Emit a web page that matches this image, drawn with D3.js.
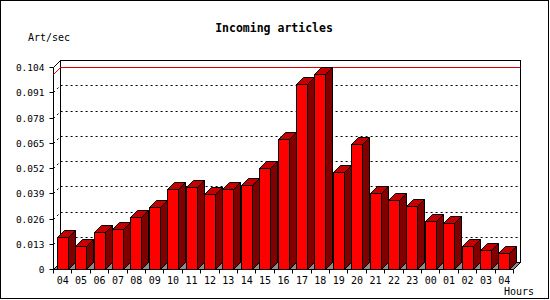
<!DOCTYPE html>
<html>
<head>
<meta charset="utf-8">
<script src="https://cdn.jsdelivr.net/npm/d3@7"></script>
<style>
  body { margin: 0; background: #fff; }
  svg { display: block; }
  text { font-family: "DejaVu Sans Mono", monospace; fill: #000; }
</style>
</head>
<body>
<div id="chart"></div>
<script>
// values
const hours = ["04","05","06","07","08","09","10","11","12","13","14","15","16",
               "17","18","19","20","21","22","23","00","01","02","03","04"];
const artPerSec = [0.0163, 0.0116, 0.0188, 0.0204, 0.0270, 0.0317, 0.0414, 0.0424,
                   0.0388, 0.0414, 0.0435, 0.0518, 0.0671, 0.0950, 0.1006, 0.0501,
                   0.0645, 0.0390, 0.0353, 0.0322, 0.0246, 0.0236, 0.0116, 0.0096, 0.0081];
const yTicks = [0, 0.013, 0.026, 0.039, 0.052, 0.065, 0.078, 0.091, 0.104];
const yTickLabels = ["0", "0.013", "0.026", "0.039", "0.052", "0.065", "0.078", "0.091", "0.104"];

const width = 550, height = 300;
const depth = 7;          // 3d offset of the back wall
const plotL = 53.5, plotR = 513.5, plotB = 269.5, plotT = 67.5;

const svg = d3.select("#chart").append("svg")
    .attr("width", width)
    .attr("height", height);

svg.append("rect")
    .attr("x", 0.5).attr("y", 0.5)
    .attr("width", 548).attr("height", 298)
    .attr("fill", "#fff").attr("stroke", "#000");

const x = d3.scaleBand()
    .domain(d3.range(hours.length))
    .range([plotL, plotR]);

const y = d3.scaleLinear()
    .domain([0, yTicks[yTicks.length - 1]])
    .range([plotB, plotT]);

const py = v => Math.round(y(v) - 0.5) + 0.5;

// back wall
svg.append("rect")
    .attr("x", plotL + depth).attr("y", plotT - depth)
    .attr("width", plotR - plotL).attr("height", plotB - plotT)
    .attr("fill", "#fff").attr("stroke", "#000")
    .attr("shape-rendering", "crispEdges");

// left wall edges
svg.append("path")
    .attr("d", `M${plotL},${plotB}V${plotT}L${plotL + depth},${plotT - depth}`)
    .attr("fill", "none").attr("stroke", "#000");

// dotted grid lines
svg.append("g")
  .selectAll("path")
  .data(yTicks.slice(1, -1))
  .join("path")
    .attr("d", d => `M${plotL},${py(d)}L${plotL + depth},${py(d) - depth}H${plotR + depth}`)
    .attr("fill", "none")
    .attr("stroke", "#000")
    .attr("stroke-dasharray", "2,3");

// maximum line
const maxV = d3.max(artPerSec);
svg.append("path")
    .attr("d", `M${plotL},${py(maxV)}L${plotL + depth},${py(maxV) - depth}H${plotR + depth}`)
    .attr("fill", "none")
    .attr("stroke", "#e00000");

// floor
svg.append("path")
    .attr("d", `M${plotL},${plotB}L${plotL + depth},${plotB - depth}H${plotR + depth}L${plotR},${plotB}Z`)
    .attr("fill", "#8c8c8c").attr("stroke", "#000");

// bars
const bar = svg.append("g")
    .attr("stroke", "#000")
  .selectAll("g")
  .data(artPerSec)
  .join("g");

const bx0 = (d, i) => Math.round(x(i) + x.bandwidth() * 0.18) + 0.5;
const bw = Math.round(x.bandwidth() * 0.6);

bar.append("path")
    .attr("fill", "#ff0000")
    .attr("d", (d, i) => `M${bx0(d, i)},${plotB}V${py(d)}h${bw}V${plotB}Z`);

bar.append("path")
    .attr("fill", "#c40000")
    .attr("d", (d, i) => `M${bx0(d, i)},${py(d)}l${depth},${-depth}h${bw}l${-depth},${depth}Z`);

bar.append("path")
    .attr("fill", "#800000")
    .attr("d", (d, i) => `M${bx0(d, i) + bw},${py(d)}l${depth},${-depth}V${plotB - depth}l${-depth},${depth}Z`);

// y axis ticks + labels
const yAxis = d3.axisLeft(y)
    .tickValues(yTicks)
    .tickFormat((d, i) => yTickLabels[i])
    .tickSize(4)
    .tickSizeOuter(0)
    .tickPadding(5);

svg.append("g")
    .attr("transform", `translate(${plotL},0)`)
    .call(yAxis)
    .call(g => g.select(".domain").remove())
    .call(g => g.selectAll(".tick").attr("transform", d => `translate(0,${py(d)})`))
    .call(g => g.selectAll("line").attr("stroke", "#000"))
    .call(g => g.selectAll("text")
        .attr("font-size", "9.5px")
        .attr("font-family", "DejaVu Sans Mono")
        .attr("fill", "#000"));

// x axis: ticks at band edges, labels at band centres
const xEdges = d3.scaleLinear().domain([0, hours.length]).range([plotL, plotR]);
svg.append("g")
    .attr("transform", `translate(0,${plotB})`)
    .call(d3.axisBottom(xEdges).tickValues(d3.range(hours.length + 1))
        .tickFormat("").tickSize(4).tickSizeOuter(0))
    .call(g => g.selectAll(".tick").attr("transform", d => `translate(${Math.round(xEdges(d) - 0.5) + 0.5},0)`))
    .call(g => g.select(".domain").attr("d", `M${plotL},0H${plotR}`).attr("stroke", "#000"))
    .call(g => g.selectAll("line").attr("stroke", "#000"));

svg.append("g")
    .attr("transform", `translate(0,${plotB})`)
    .call(d3.axisBottom(x).tickFormat(i => hours[i]).tickSize(0).tickPadding(7))
    .call(g => g.select(".domain").remove())
    .call(g => g.selectAll("text")
        .attr("font-size", "10px")
        .attr("font-family", "DejaVu Sans Mono")
        .attr("fill", "#000"));

// titles
svg.append("text")
    .attr("x", 274).attr("y", 32)
    .attr("text-anchor", "middle")
    .attr("font-size", "11.5px")
    .attr("font-weight", "bold")
    .text("Incoming articles");

svg.append("text")
    .attr("x", 28).attr("y", 41)
    .attr("font-size", "10px")
    .text("Art/sec");

svg.append("text")
    .attr("x", 504).attr("y", 295)
    .attr("font-size", "10px")
    .text("Hours");
</script>
</body>
</html>
